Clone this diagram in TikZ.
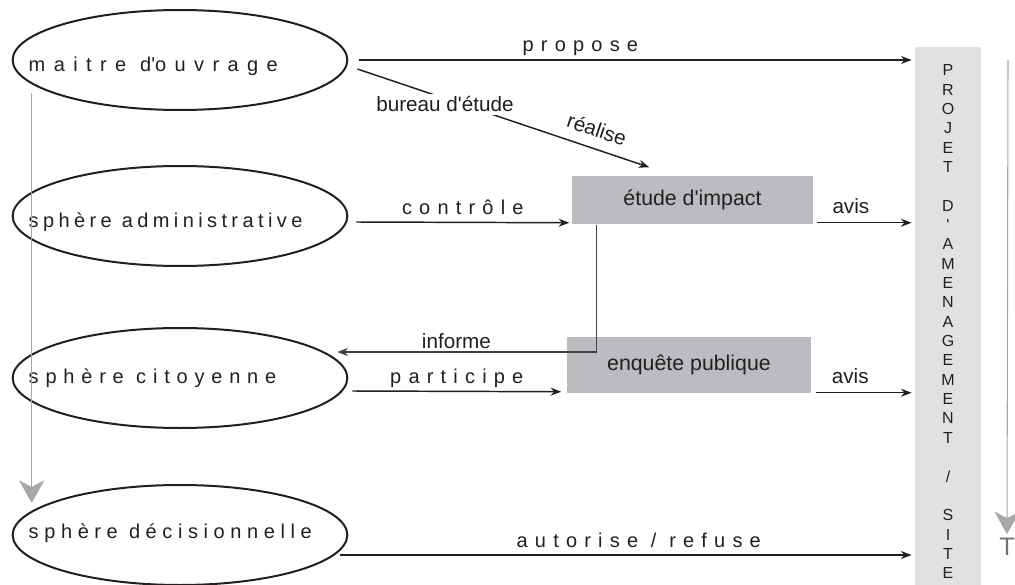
\documentclass[tikz,border=0pt]{standalone}
\usepackage{fontspec}
\setmainfont{Liberation Sans}
\newfontfamily\spacedfont[LetterSpace=36]{Liberation Sans}
\newfontfamily\maitrefont[LetterSpace=42]{Liberation Sans}
\newfontfamily\adminfont[LetterSpace=22]{Liberation Sans}
\newfontfamily\citoyenfont[LetterSpace=34]{Liberation Sans}
\newfontfamily\decisionfont[LetterSpace=28]{Liberation Sans}
\usetikzlibrary{arrows.meta,shapes.geometric,positioning,calc}
\definecolor{boxgray}{HTML}{BBBCBF}
\definecolor{bargray}{HTML}{E0E1E3}
\definecolor{arrowgray}{HTML}{A6A8AB}
\definecolor{ink}{HTML}{231F20}
\newcommand{\apos}{\textquotesingle}

\begin{document}
\begin{tikzpicture}[x=0.75pt, y=-0.75pt, >={Stealth[length=8pt,width=6pt]}, line width=1.1pt, color=ink]
    \tikzstyle{sphere}=[ellipse, draw, line width=1.5pt, minimum width=251pt, minimum height=75pt, inner sep=0pt]
    \tikzstyle{spheretext}=[anchor=base west, inner sep=0pt]
    \tikzstyle{action}=[anchor=base, inner sep=0pt, yshift=6pt, font=\spacedfont\fontsize{15}{18}\selectfont]
    \tikzstyle{plain}=[inner sep=2pt, font=\fontsize{15.5}{18}\selectfont]
    \tikzstyle{study}=[fill=boxgray, inner sep=0pt, font=\fontsize{16}{19}\selectfont]
    \tikzstyle{arr}=[->]
    \tikzstyle{grayarr}=[-{Stealth[length=17pt,width=19pt,inset=5pt]}, draw=arrowgray, line width=1.2pt]

    \useasboundingbox (0,0) rectangle (1015,585);

    % spheres
    \node[sphere] (maitre) at (180,60) {};
    \node[sphere] (admin) at (180,216) {};
    \node[sphere] (citoyen) at (180,378) {};
    \node[sphere] (decision) at (180,535) {};
    \node[spheretext, font=\maitrefont\fontsize{15}{18}\selectfont] (maitre-txt) at (28,72) {maitre d\apos ouvrage};
    \node[spheretext, font=\adminfont\fontsize{15}{18}\selectfont] (admin-txt) at (28,227) {sphère administrative};
    \node[spheretext, font=\citoyenfont\fontsize{15}{18}\selectfont] (citoyen-txt) at (28,383) {sphère citoyenne};
    \node[spheretext, font=\decisionfont\fontsize{15}{18}\selectfont] (decision-txt) at (28,538) {sphère décisionnelle};

    % procedures
    \node[study, minimum width=180.75pt, minimum height=36pt] (impact) at (692.5,200) {étude d\apos impact};
    \node[study, minimum width=183pt, minimum height=42pt] (enquete) at (689,365) {enquête publique};

    % project bar
    \node[fill=bargray, minimum width=49.5pt, minimum height=410pt, inner sep=0pt] (projet) at (948,320) {};
    \node[anchor=north, inner sep=0pt, align=center, font=\fontsize{12}{14.51}\selectfont] (projet-txt) at (948,64)
        {P\\R\\O\\J\\E\\T\\\mbox{}\\D\\\apos\\A\\M\\E\\N\\A\\G\\E\\M\\E\\N\\T\\\mbox{}\\/\\\mbox{}\\S\\I\\T\\E};

    % time
    \coordinate (debut) at (1008,60);
    \node[anchor=base, inner sep=2pt, text=black!55, font=\fontsize{19}{22}\selectfont] (temps) at (1007,555) {T};

    % arrow ends
    \coordinate (impact-out) at ($(impact.south east)+(3,-2)$);
    \coordinate (enquete-out) at ($(enquete.south east)+(4,-1)$);
    \coordinate (decision-out) at ($(decision.east)+(-8,20)$);

    \draw[arr, shorten <=8pt, shorten >=2pt] (maitre.east) -- (maitre.east -| projet.west)
        node[action, pos=0.41] {propose};
    \draw[arr] ($(maitre.east)+(9,9)$) -- ($(impact.north west)+(78,-8)$)
        node[plain, pos=0.3, fill=white, yshift=-4.5pt] {bureau d\apos étude}
        node[plain, pos=0.8, sloped, above=6pt] {réalise};
    \draw[arr] ($(admin.east)+(8,6)$) -- ($(impact.south west)+(-2,-2)$)
        node[action, midway] {contrôle};
    \draw[arr, shorten >=2pt] (impact-out) -- (impact-out -| projet.west)
        node[plain, pos=0.35, above=4pt] {avis};
    \draw[arr, draw=black!75] ($(impact.south west)+(25,0)$) |- ($(citoyen.east)+(-11,-26)$)
        node[plain, pos=0.77, above] {informe};
    \draw[arr] ($(citoyen.east)+(4,13)$) -- ($(enquete.south west)+(-5,-2)$)
        node[action, midway] {participe};
    \draw[arr, shorten >=2pt] (enquete-out) -- (enquete-out -| projet.west)
        node[plain, pos=0.35, above=4pt] {avis};
    \draw[arr, shorten >=2pt] (decision-out) -- (decision-out -| projet.west)
        node[action, pos=0.52] {autorise / refuse};

    % gray arrows
    \draw[grayarr] ($(maitre.west)+(20,33)$) -- ($(decision.west)+(20,-32)$);
    \draw[grayarr, line width=0.8pt] (debut) -- (temps.north);

  \end{tikzpicture}
\end{document}
